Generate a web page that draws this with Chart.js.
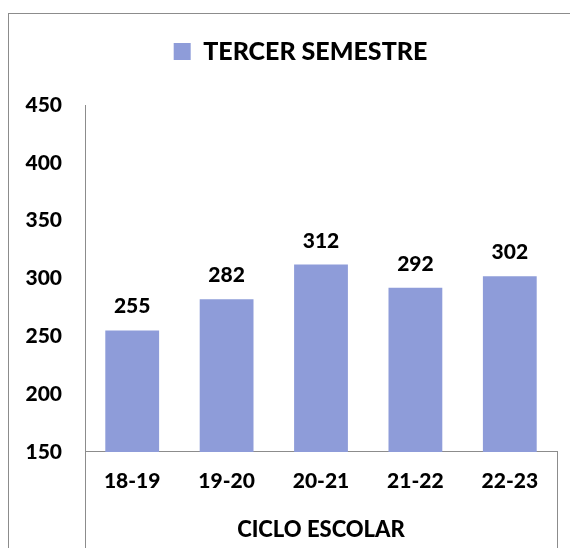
<!DOCTYPE html>
<html>
<head>
<meta charset="utf-8">
<script src="https://cdn.jsdelivr.net/npm/chart.js@4/dist/chart.umd.min.js"></script>
<style>
  html, body { margin: 0; padding: 0; background: #fff; overflow: hidden; }
  #wrap { position: relative; width: 570px; height: 548px; }
  #frame { position: absolute; left: 8px; top: 13px; width: 700px; height: 700px; border: 1px solid #8c8c8c; box-sizing: border-box; }
  canvas { position: absolute; left: 0; top: 0; }
</style>
</head>
<body>
<div id="wrap">
  <div id="frame"></div>
  <canvas id="chart" width="570" height="548"></canvas>
</div>
<script>
// datos del gráfico
const categories = ['18-19', '19-20', '20-21', '21-22', '22-23'];
const seriesName = 'TERCER SEMESTRE';
const values = [255, 282, 312, 292, 302];
const axisTitle = 'CICLO ESCOLAR';

const FONT = "Lato, 'Open Sans', sans-serif";
const WEIGHT = 900;
const BAR_COLOR = '#8e9cd9';
const LINE_COLOR = '#8c8c8c';

// etiquetas de valor sobre cada barra
const valueLabels = {
  id: 'valueLabels',
  afterDatasetsDraw(chart) {
    const ctx = chart.ctx;
    const meta = chart.getDatasetMeta(0);
    ctx.save();
    ctx.font = WEIGHT + ' 21px ' + FONT;
    ctx.fillStyle = '#000';
    ctx.textAlign = 'center';
    ctx.textBaseline = 'alphabetic';
    meta.data.forEach((bar, i) => {
      ctx.fillText(values[i], bar.x, bar.y - 17);
    });
    ctx.restore();
  }
};

// líneas laterales bajo el eje de categorías + leyenda desplazada
const categoryFrame = {
  id: 'categoryFrame',
  afterLayout(chart) {
    chart.legend.left += 22;
    chart.legend.right += 22;
  },
  afterDraw(chart) {
    const { ctx, chartArea } = chart;
    ctx.save();
    ctx.strokeStyle = LINE_COLOR;
    ctx.lineWidth = 1;
    ctx.beginPath();
    [chartArea.left, chartArea.right].forEach(x => {
      const px = Math.round(x) + 0.5;
      ctx.moveTo(px, chartArea.bottom);
      ctx.lineTo(px, chart.height);
    });
    ctx.stroke();
    ctx.restore();
  }
};

new Chart(document.getElementById('chart'), {
  type: 'bar',
  data: {
    labels: categories,
    datasets: [{
      label: seriesName,
      data: values,
      backgroundColor: BAR_COLOR,
      barPercentage: 0.57,
      categoryPercentage: 1
    }]
  },
  plugins: [valueLabels, categoryFrame],
  options: {
    responsive: false,
    animation: false,
    layout: { padding: { top: 29, right: 13, bottom: 8, left: 0 } },
    plugins: {
      legend: {
        position: 'top',
        labels: {
          font: { family: FONT, size: 25, weight: WEIGHT },
          color: '#000',
          boxWidth: 17,
          boxHeight: 17,
          padding: 10
        }
      },
      // espacio entre leyenda y gráfico
      subtitle: {
        display: true,
        text: '',
        position: 'top',
        weight: 0,
        font: { size: 11, lineHeight: 1 },
        padding: { top: 20, bottom: 0 }
      },
      tooltip: { enabled: false }
    },
    scales: {
      x: {
        grid: { display: false },
        border: { color: LINE_COLOR },
        ticks: {
          font: { family: FONT, size: 21, weight: WEIGHT, lineHeight: 1.03 },
          color: '#000',
          padding: 11
        },
        title: {
          display: true,
          text: axisTitle,
          font: { family: FONT, size: 22, weight: WEIGHT, lineHeight: 0.93 },
          color: '#000',
          padding: { top: 16, bottom: 0 }
        }
      },
      y: {
        min: 150,
        max: 450,
        afterFit(scale) { scale.width = 85; },
        grid: { display: false, drawTicks: false },
        border: { color: LINE_COLOR },
        ticks: {
          stepSize: 50,
          font: { family: FONT, size: 21, weight: WEIGHT },
          color: '#000',
          padding: 23
        }
      }
    }
  }
});
</script>
</body>
</html>
